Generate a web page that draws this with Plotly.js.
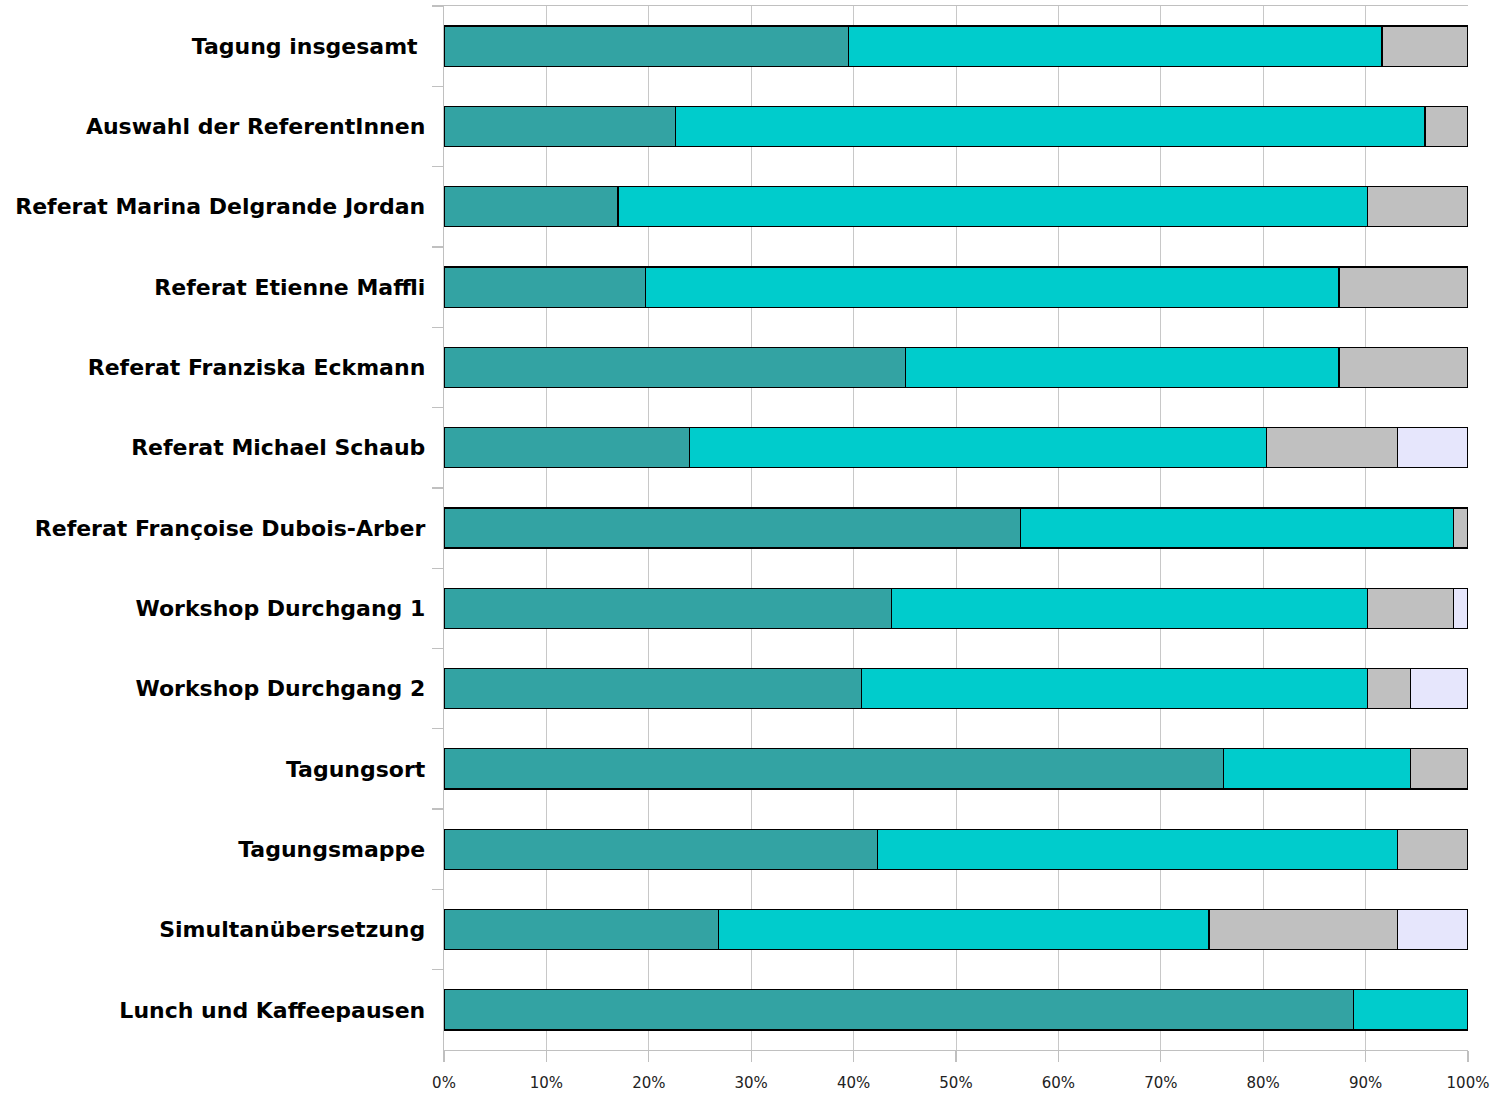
<!DOCTYPE html>
<html>
<head>
<meta charset="utf-8">
<script src="https://cdn.plot.ly/plotly-3.0.1.min.js"></script>
<style>html,body{margin:0;padding:0;background:#fff;}#chart{width:1491px;height:1095px;}</style>
</head>
<body>
<div id="chart"></div>
<script>
const categories = [
  "Tagung insgesamt ",
  "Auswahl der ReferentInnen",
  "Referat Marina Delgrande Jordan",
  "Referat Etienne Maffli",
  "Referat Franziska Eckmann",
  "Referat Michael Schaub",
  "Referat Françoise Dubois-Arber",
  "Workshop Durchgang 1",
  "Workshop Durchgang 2",
  "Tagungsort",
  "Tagungsmappe",
  "Simultanübersetzung",
  "Lunch und Kaffeepausen"
];
const series1 = [39.5, 22.6, 17.0, 19.7, 45.1, 24.0, 56.3, 43.7, 40.8, 76.1, 42.3, 26.8, 88.8];
const series2 = [52.1, 73.2, 73.2, 67.7, 42.3, 56.3, 42.3, 46.5, 49.4, 18.3, 50.8, 47.9, 11.2];
const series3 = [8.4, 4.2, 9.8, 12.6, 12.6, 12.8, 1.4, 8.4, 4.2, 5.6, 6.9, 18.4, 0];
const series4 = [0, 0, 0, 0, 0, 6.9, 0, 1.4, 5.6, 0, 0, 6.9, 0];
const seriesNames = ["sehr gut", "gut", "mittel", "schlecht"];
const seriesColors = ["#33a3a3", "#00cccc", "#c0c0c0", "#e6e6fc"];
const xTickVals = [0, 10, 20, 30, 40, 50, 60, 70, 80, 90, 100];
const xTickText = ["0%", "10%", "20%", "30%", "40%", "50%", "60%", "70%", "80%", "90%", "100%"];

const allSeries = [series1, series2, series3, series4];
const traces = allSeries.map((vals, i) => ({
  type: "bar",
  orientation: "h",
  name: seriesNames[i],
  y: categories,
  x: vals,
  marker: { color: seriesColors[i], line: { color: "#000", width: 1.2 } },
  hoverinfo: "x+y+name"
}));

const layout = {
  barmode: "stack",
  bargap: 0.5,
  showlegend: false,
  paper_bgcolor: "#fff",
  plot_bgcolor: "#fff",
  margin: { l: 444, r: 23, t: 6, b: 45 },
  xaxis: {
    range: [0, 100],
    tickvals: xTickVals,
    ticktext: xTickText,
    showgrid: true,
    gridcolor: "#c8c8c8",
    gridwidth: 1,
    showline: true,
    linecolor: "#c0c0c0",
    linewidth: 1.3,
    mirror: true,
    ticks: "outside",
    ticklen: 11,
    tickcolor: "#c0c0c0",
    tickwidth: 1.3,
    ticklabelstandoff: 8,
    zeroline: false,
    tickfont: { family: "DejaVu Sans", size: 15, color: "#222" },
    fixedrange: true
  },
  yaxis: {
    type: "category",
    autorange: "reversed",
    showgrid: false,
    showline: true,
    linecolor: "#c0c0c0",
    linewidth: 1.3,
    ticks: "outside",
    tickson: "boundaries",
    ticklen: 11,
    tickcolor: "#c0c0c0",
    tickwidth: 1.3,
    ticklabelstandoff: 13,
    zeroline: false,
    tickfont: { family: "DejaVu Sans", size: 22, color: "#000", weight: "bold" },
    fixedrange: true
  }
};

Plotly.newPlot("chart", traces, layout, { displayModeBar: false, staticPlot: true });
</script>
</body>
</html>
